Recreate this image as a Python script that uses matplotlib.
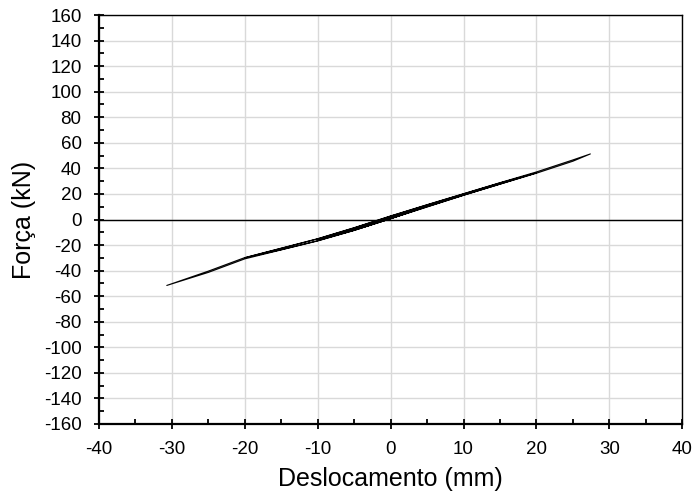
import matplotlib
matplotlib.use("Agg")
import matplotlib.pyplot as plt
from matplotlib.ticker import MultipleLocator

plt.rcParams['font.family'] = ['Liberation Sans', 'DejaVu Sans']
plt.rcParams['axes.unicode_minus'] = False

# Hysteresis path (displacement in mm, force in kN)
displacement = [0, 2.5, 0, -2.5, 0,
                2.5, 0, -2.5, 0,
                2.5, 5, 2.5, 0, -2.5, -5, -2.5, 0,
                5, 0, -5, 0,
                5, 10, 5, 0, -5, -10, -5, 0,
                5, 10, 5, 0, -5, -10, -5, 0,
                10, 20, 15, 10, 5, 0, -5, -10, -15, -20, -15, -10, -5, 0,
                5, 10, 15, 20, 25, 27.4, 25, 20, 15, 10, 5, 0, -5, -10, -15, -20, -25, -30.7,
                -25, -20, -15, -10, -5, 0]
force = [1.2, 5.8, 2.2, -3.0, 1.2,
         5.6, 2.0, -3.2, 1.0,
         5.6, 10.6, 6.2, 2.2, -3.0, -7.6, -3.8, 1.0,
         10.4, 2.2, -7.8, 0.8,
         10.4, 19.5, 11.0, 2.4, -7.0, -16.0, -8.2, 0.8,
         10.2, 19.3, 10.8, 2.2, -7.2, -16.2, -8.4, 0.6,
         18.9, 36.5, 28.6, 20.0, 11.4, 2.6, -6.6, -15.2, -22.6, -30.0, -23.6, -16.6, -8.4, 0.6,
         10.0, 19.0, 27.6, 36.2, 45.6, 51.3, 46.6, 37.2, 28.8, 20.2, 11.6, 2.8, -6.4, -15.0, -22.4, -29.8, -40.4, -51.6,
         -41.4, -30.8, -23.8, -16.8, -8.6, 0.6]

x_label = "Deslocamento (mm)"
y_label = "Força (kN)"

fig = plt.figure(figsize=(6.96, 4.97), dpi=100)
ax = fig.add_axes([0.1422, 0.1469, 0.838, 0.8229])

ax.set_xlim(-40, 40)
ax.set_ylim(-160, 160)
ax.xaxis.set_major_locator(MultipleLocator(10))
ax.xaxis.set_minor_locator(MultipleLocator(5))
ax.yaxis.set_major_locator(MultipleLocator(20))
ax.yaxis.set_minor_locator(MultipleLocator(10))

ax.grid(True, which='major', color='#d9d9d9', linewidth=1.0, zorder=0)
ax.axhline(0, color='black', linewidth=1.0, zorder=2)
ax.plot(displacement, force, color='black', linewidth=0.8, zorder=3)

for s in ['left', 'bottom']:
    ax.spines[s].set_linewidth(1.6)
for s in ['top', 'right']:
    ax.spines[s].set_linewidth(1.0)

ax.tick_params(axis='y', which='major', direction='inout', length=7, width=1.3,
               labelsize=13.5, pad=9)
ax.tick_params(axis='x', which='major', direction='inout', length=7, width=1.3,
               labelsize=13.5, pad=9)
ax.tick_params(which='minor', direction='in', length=3.5, width=1.3)

ax.set_xlabel(x_label, fontsize=18, labelpad=6)
ax.set_ylabel(y_label, fontsize=18, labelpad=6)

fig.savefig("out.png", dpi=100)
